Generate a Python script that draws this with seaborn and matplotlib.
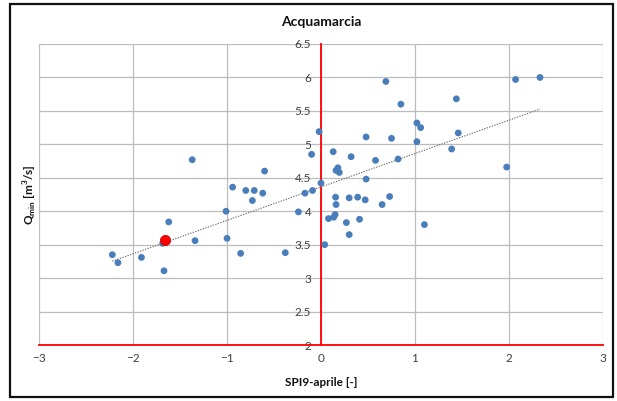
import matplotlib
matplotlib.use("Agg")
import matplotlib.pyplot as plt
import seaborn as sns
import pandas as pd
from matplotlib.patches import Rectangle

spi = [-2.22, -2.16, -1.91, -1.67, -1.685, -1.62, -1.37, -1.34, -1.01, -1.00,
       -0.94, -0.855, -0.80, -0.73, -0.71, -0.62, -0.60, -0.38, -0.24, -0.17,
       -0.09, -0.10, -0.02, 0.00, 0.04, 0.08, 0.13, 0.135, 0.15, 0.155,
       0.16, 0.16, 0.18, 0.195, 0.27, 0.30, 0.30, 0.32, 0.39, 0.41,
       0.47, 0.48, 0.48, 0.58, 0.65, 0.69, 0.73, 0.75, 0.82, 0.85,
       1.02, 1.02, 1.06, 1.10, 1.39, 1.44, 1.46, 1.975, 2.07, 2.33]
qmin = [3.35, 3.23, 3.31, 3.11, 3.52, 3.84, 4.77, 3.56, 4.00, 3.595,
        4.36, 3.37, 4.31, 4.16, 4.31, 4.27, 4.60, 3.38, 3.99, 4.27,
        4.31, 4.85, 5.19, 4.42, 3.50, 3.89, 4.89, 3.91, 3.95, 4.21,
        4.10, 4.61, 4.65, 4.58, 3.83, 3.65, 4.20, 4.815, 4.21, 3.88,
        4.17, 4.48, 5.11, 4.76, 4.10, 5.94, 4.22, 5.09, 4.78, 5.60,
        5.32, 5.04, 5.25, 3.80, 4.93, 5.68, 5.17, 4.66, 5.97, 6.00]
highlight_x = [-1.656]
highlight_y = [3.575]

x_ticks = [-3, -2, -1, 0, 1, 2, 3]
y_ticks = [2, 2.5, 3, 3.5, 4, 4.5, 5, 5.5, 6, 6.5]
y_tick_labels = ["2", "2.5", "3", "3.5", "4", "4.5", "5", "5.5", "6", "6.5"]

title = "Acquamarcia"
xlabel = "SPI9-aprile [-]"

sns.set_style("white")
plt.rcParams["font.family"] = ["Lato", "DejaVu Sans"]
plt.rcParams["mathtext.fontset"] = "custom"
plt.rcParams["mathtext.rm"] = "Lato"
plt.rcParams["mathtext.bf"] = "Lato:bold"

df = pd.DataFrame({"spi": spi, "q": qmin})
hl = pd.DataFrame({"spi": highlight_x, "q": highlight_y})

fig = plt.figure(figsize=(6.17, 4.01), dpi=100)
ax = fig.add_axes([39 / 617, 1 - 345 / 401, 564 / 617, 301 / 401])

ax.set_xlim(-3, 3)
ax.set_ylim(2, 6.5)
ax.set_xticks(x_ticks)
ax.set_yticks(y_ticks)
ax.set_yticklabels(y_tick_labels)
ax.grid(True, color="#bdbdbd", linewidth=0.9)
ax.set_axisbelow(True)

sns.regplot(data=df, x="spi", y="q", scatter=False, ci=None, ax=ax,
            line_kws=dict(color="#6e6e6e", linestyle=(0, (1.2, 1.2)), linewidth=0.8))
sns.scatterplot(data=df, x="spi", y="q", ax=ax, color="#4a7ebb", s=24,
                edgecolor="none", zorder=3)
sns.scatterplot(data=hl, x="spi", y="q", ax=ax, color="#ff0000", s=55,
                edgecolor="#c00000", linewidth=0.5, zorder=4)

ax.spines["left"].set_position(("data", 0))
ax.spines["left"].set_color("#ff0000")
ax.spines["left"].set_linewidth(1.3)
ax.spines["bottom"].set_color("#ff0000")
ax.spines["bottom"].set_linewidth(1.3)
ax.spines["right"].set_visible(False)
ax.spines["top"].set_visible(False)

ax.tick_params(axis="y", direction="out", length=4, width=1.3, color="#ff0000",
               labelsize=8.5, labelcolor="#404040", pad=3)
ax.tick_params(axis="x", direction="in", length=4, width=1.3, color="#ff0000",
               labelsize=8.5, labelcolor="#404040", pad=6)
ax.set_xlabel("")
ax.set_ylabel("")

fig.text(321 / 617, 1 - 22 / 401, title, ha="center", va="center",
         fontsize=10, fontweight="bold", color="#111111")
fig.text(321 / 617, 1 - 382 / 401, xlabel, ha="center", va="center",
         fontsize=8.5, fontweight="bold", color="#111111")
fig.text(30 / 617, 1 - 195 / 401, r"Q$_{\mathbf{min}}$ [m$^{\mathbf{3}}$/s]", ha="center",
         va="center", rotation=90, fontsize=8.5, fontweight="bold", color="#111111")

fig.patches.append(Rectangle((10 / 617, 1 - 397 / 401), 603 / 617, 393 / 401,
                             transform=fig.transFigure, fill=False,
                             edgecolor="#111111", linewidth=1.6))

fig.savefig("out.png", dpi=100)
